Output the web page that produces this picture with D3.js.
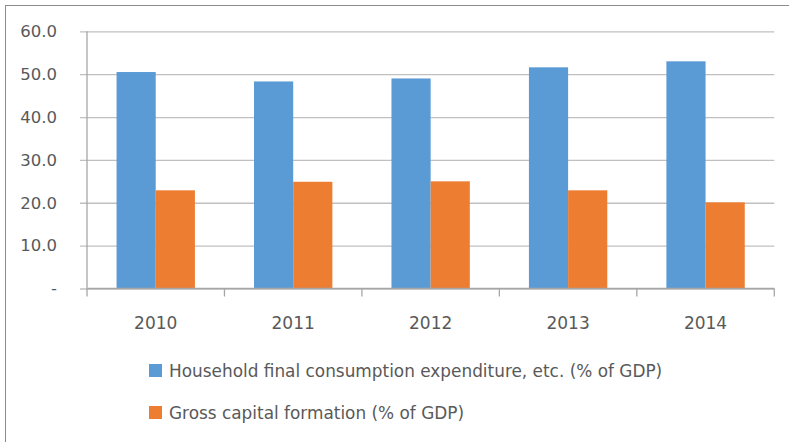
<!DOCTYPE html>
<html>
<head>
<meta charset="utf-8">
<script src="https://cdn.jsdelivr.net/npm/d3@7"></script>
<style>
  html, body { margin: 0; padding: 0; background: #fff; }
  svg { display: block; }
  text { font-family: "DejaVu Sans", sans-serif; fill: #595959; }
</style>
</head>
<body>
<svg id="chart" width="789" height="442"></svg>
<script>
// Data
const years = ["2010", "2011", "2012", "2013", "2014"];
const household = [50.5, 48.3, 49.0, 51.6, 53.0];
const capital = [22.9, 24.9, 25.0, 22.9, 20.1];
const seriesNames = [
  "Household final consumption expenditure, etc. (% of GDP)",
  "Gross capital formation (% of GDP)"
];
const seriesColors = ["#5B9BD5", "#ED7D31"];
const yTicks = [0, 10, 20, 30, 40, 50, 60];

const svg = d3.select("#chart");

// Chart frame
svg.append("rect")
  .attr("x", 5.5).attr("y", 5.5)
  .attr("width", 900).attr("height", 600)
  .attr("fill", "none").attr("stroke", "#8c8c8c").attr("stroke-width", 1);

const plot = { left: 87, right: 774.3, top: 31.3, bottom: 288.5 };

const y = d3.scaleLinear().domain([0, 60]).range([plot.bottom, plot.top]);
const x0 = d3.scaleBand().domain(years)
  .range([plot.left, plot.right])
  .paddingInner(0.43).paddingOuter(0.215);
const x1 = d3.scaleBand().domain([0, 1]).range([0, x0.bandwidth()]);

// Gridlines and y labels via axis
const yAxis = d3.axisLeft(y)
  .tickValues(yTicks)
  .tickSize(-(plot.right - plot.left + 7))
  .tickFormat(d => d === 0 ? "-" : d3.format(".1f")(d));

const yg = svg.append("g")
  .attr("transform", `translate(${plot.left - 7},0)`)
  .call(yAxis);
yg.select(".domain").remove();
yg.selectAll(".tick line")
  .attr("stroke", "#c0c0c0").attr("stroke-width", 1.3);
yg.selectAll(".tick text")
  .attr("font-size", 16.5)
  .attr("x", -23)
  .style("font-family", "DejaVu Sans, sans-serif")
  .attr("fill", "#595959");

// Bars
const groups = svg.append("g").selectAll("g")
  .data(years)
  .join("g")
  .attr("transform", d => `translate(${x0(d)},0)`);

groups.selectAll("rect")
  .data((d, i) => [household[i], capital[i]])
  .join("rect")
  .attr("x", (d, j) => x1(j))
  .attr("width", x1.bandwidth())
  .attr("y", d => y(d))
  .attr("height", d => y(0) - y(d))
  .attr("fill", (d, j) => seriesColors[j]);

// Category axis with boundary ticks
const xg = svg.append("g");
xg.append("line")
  .attr("x1", plot.left).attr("x2", plot.right)
  .attr("y1", y(0)).attr("y2", y(0))
  .attr("stroke", "#a6a6a6").attr("stroke-width", 1.3);
const tickXs = d3.range(years.length + 1).map(i => plot.left + i * x0.step());
xg.selectAll("line.tk")
  .data(tickXs)
  .join("line")
  .attr("class", "tk")
  .attr("x1", d => d).attr("x2", d => d)
  .attr("y1", (d, i) => i === 0 ? plot.top : y(0))
  .attr("y2", y(0) + 8)
  .attr("stroke", "#a6a6a6").attr("stroke-width", 1.3);
xg.selectAll("text")
  .data(years)
  .join("text")
  .attr("x", d => x0(d) + x0.bandwidth() / 2)
  .attr("y", 329)
  .attr("text-anchor", "middle")
  .attr("font-size", 17)
  .text(d => d);

// Legend
const legend = svg.append("g");
const rows = legend.selectAll("g")
  .data(seriesNames)
  .join("g")
  .attr("transform", (d, i) => `translate(149,${364 + i * 42})`);
rows.append("rect")
  .attr("width", 13).attr("height", 13)
  .attr("fill", (d, i) => seriesColors[i]);
rows.append("text")
  .attr("x", 20).attr("y", 13)
  .attr("font-size", 16.9)
  .text(d => d);
</script>
</body>
</html>
